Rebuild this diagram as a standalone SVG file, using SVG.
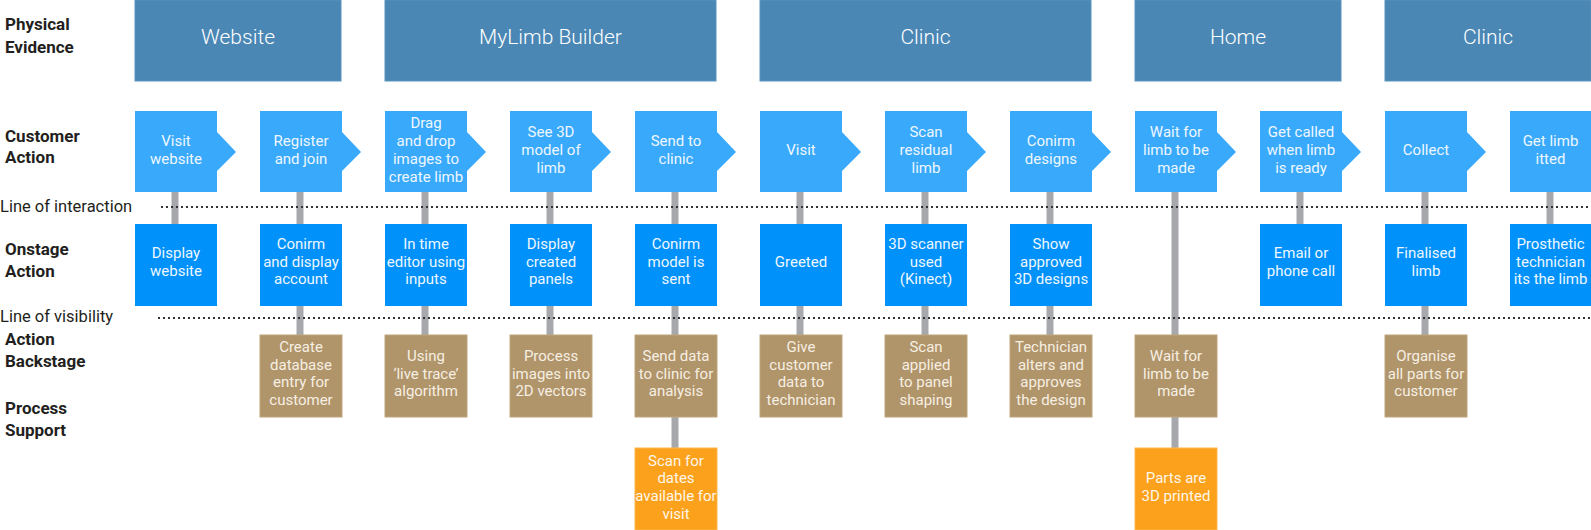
<svg xmlns="http://www.w3.org/2000/svg" width="1591" height="530" viewBox="0 0 1591 530">
<style>
text{font-family:Roboto,"Liberation Sans",sans-serif;}
.lbl{font-size:17px;font-weight:bold;fill:#231f20;}
.line-lbl{font-size:16.5px;fill:#231f20;}
.hdr rect{fill:#4a87b5;stroke:#5b93be;stroke-width:1;}
.hdr text{font-size:21px;font-weight:300;fill:#ffffff;text-anchor:middle;}
.ca path{fill:#39a9fb;}
.on rect{fill:#0091fa;}
.bs rect{fill:#b0946a;stroke:#c0a57c;stroke-width:1;}
.sp rect{fill:#fba11b;stroke:#fdb74f;stroke-width:1;}
.nt{font-size:15px;text-anchor:middle;}
.ca text,.on text{fill:#eef7ff;}
.bs text{fill:#f6efe2;}
.sp text{fill:#fff6e8;}
.conn line{stroke:#a6a8ab;stroke-width:7;}
.dots line{stroke:#333333;stroke-width:2;stroke-dasharray:2 3;}
</style>

<!-- Left labels -->
<g id="labels">
<text class="lbl" x="5" y="30">Physical</text>
<text class="lbl" x="5" y="52.5">Evidence</text>
<text class="lbl" x="5" y="141.5">Customer</text>
<text class="lbl" x="5" y="163">Action</text>
<text class="line-lbl" x="0" y="211.5">Line of interaction</text>
<text class="lbl" x="5" y="255">Onstage</text>
<text class="lbl" x="5" y="276.5">Action</text>
<text class="line-lbl" x="0" y="322">Line of visibility</text>
<text class="lbl" x="5" y="345">Action</text>
<text class="lbl" x="5" y="366.5">Backstage</text>
<text class="lbl" x="5" y="414">Process</text>
<text class="lbl" x="5" y="435.5">Support</text>
</g>

<!-- Physical evidence headers -->
<g id="pe-website" class="hdr"><rect x="135" y="0" width="206" height="81"/><text x="238" y="43.5">Website</text></g>
<g id="pe-mylimb" class="hdr"><rect x="385" y="0" width="331" height="81"/><text x="550.5" y="43.5">MyLimb Builder</text></g>
<g id="pe-clinic1" class="hdr"><rect x="760" y="0" width="331" height="81"/><text x="925.5" y="43.5">Clinic</text></g>
<g id="pe-home" class="hdr"><rect x="1135" y="0" width="206" height="81"/><text x="1238" y="43.5">Home</text></g>
<g id="pe-clinic2" class="hdr"><rect x="1385" y="0" width="206" height="81"/><text x="1488" y="43.5">Clinic</text></g>

<!-- Connectors -->
<g id="connectors" class="conn">
<line x1="175" y1="192" x2="175" y2="224"/>
<line x1="300" y1="192" x2="300" y2="224"/><line x1="300" y1="306" x2="300" y2="335"/>
<line x1="425" y1="192" x2="425" y2="224"/><line x1="425" y1="306" x2="425" y2="335"/>
<line x1="550" y1="192" x2="550" y2="224"/><line x1="550" y1="306" x2="550" y2="335"/>
<line x1="675" y1="192" x2="675" y2="224"/><line x1="675" y1="306" x2="675" y2="335"/><line x1="675" y1="417" x2="675" y2="448"/>
<line x1="800" y1="192" x2="800" y2="224"/><line x1="800" y1="306" x2="800" y2="335"/>
<line x1="925" y1="192" x2="925" y2="224"/><line x1="925" y1="306" x2="925" y2="335"/>
<line x1="1050" y1="192" x2="1050" y2="224"/><line x1="1050" y1="306" x2="1050" y2="335"/>
<line x1="1175" y1="192" x2="1175" y2="335"/><line x1="1175" y1="417" x2="1175" y2="448"/>
<line x1="1300" y1="192" x2="1300" y2="224"/>
<line x1="1425" y1="192" x2="1425" y2="224"/><line x1="1425" y1="306" x2="1425" y2="335"/>
<line x1="1550" y1="192" x2="1550" y2="224"/>
</g>

<!-- Dotted lines -->
<g id="lines" class="dots">
<line x1="161" y1="207" x2="1591" y2="207"/>
<line x1="158" y1="318" x2="1591" y2="318"/>
</g>

<!-- Customer actions -->
<g id="ca1" class="ca"><path d="M135 111H217V132L236 152L217 171V192H135Z"/><text class="nt"><tspan x="176" y="146">Visit</tspan><tspan x="176" y="163.7">website</tspan></text></g>
<g id="ca2" class="ca"><path d="M260 111H342V132L361 152L342 171V192H260Z"/><text class="nt"><tspan x="301" y="146">Register</tspan><tspan x="301" y="163.7">and join</tspan></text></g>
<g id="ca3" class="ca"><path d="M385 111H467V132L486 152L467 171V192H385Z"/><text class="nt"><tspan x="426" y="128.4">Drag</tspan><tspan x="426" y="146.1">and drop</tspan><tspan x="426" y="163.8">images to</tspan><tspan x="426" y="181.5">create limb</tspan></text></g>
<g id="ca4" class="ca"><path d="M510 111H592V132L611 152L592 171V192H510Z"/><text class="nt"><tspan x="551" y="137.3">See 3D</tspan><tspan x="551" y="155">model of</tspan><tspan x="551" y="172.7">limb</tspan></text></g>
<g id="ca5" class="ca"><path d="M635 111H717V132L736 152L717 171V192H635Z"/><text class="nt"><tspan x="676" y="146">Send to</tspan><tspan x="676" y="163.7">clinic</tspan></text></g>
<g id="ca6" class="ca"><path d="M760 111H842V132L861 152L842 171V192H760Z"/><text class="nt"><tspan x="801" y="155">Visit</tspan></text></g>
<g id="ca7" class="ca"><path d="M885 111H967V132L986 152L967 171V192H885Z"/><text class="nt"><tspan x="926" y="137.3">Scan</tspan><tspan x="926" y="155">residual</tspan><tspan x="926" y="172.7">limb</tspan></text></g>
<g id="ca8" class="ca"><path d="M1010 111H1092V132L1111 152L1092 171V192H1010Z"/><text class="nt"><tspan x="1051" y="146">Conirm</tspan><tspan x="1051" y="163.7">designs</tspan></text></g>
<g id="ca9" class="ca"><path d="M1135 111H1217V132L1236 152L1217 171V192H1135Z"/><text class="nt"><tspan x="1176" y="137.3">Wait for</tspan><tspan x="1176" y="155">limb to be</tspan><tspan x="1176" y="172.7">made</tspan></text></g>
<g id="ca10" class="ca"><path d="M1260 111H1342V132L1361 152L1342 171V192H1260Z"/><text class="nt"><tspan x="1301" y="137.3">Get called</tspan><tspan x="1301" y="155">when limb</tspan><tspan x="1301" y="172.7">is ready</tspan></text></g>
<g id="ca11" class="ca"><path d="M1385 111H1467V132L1486 152L1467 171V192H1385Z"/><text class="nt"><tspan x="1426" y="155">Collect</tspan></text></g>
<g id="ca12" class="ca"><path d="M1510 111H1591V192H1510Z"/><text class="nt"><tspan x="1550.5" y="146">Get limb</tspan><tspan x="1550.5" y="163.7">itted</tspan></text></g>

<!-- Onstage actions -->
<g id="on1" class="on"><rect x="135" y="224" width="82" height="82"/><text class="nt"><tspan x="176" y="258">Display</tspan><tspan x="176" y="275.7">website</tspan></text></g>
<g id="on2" class="on"><rect x="260" y="224" width="82" height="82"/><text class="nt"><tspan x="301" y="249">Conirm</tspan><tspan x="301" y="266.7">and display</tspan><tspan x="301" y="284.4">account</tspan></text></g>
<g id="on3" class="on"><rect x="385" y="224" width="82" height="82"/><text class="nt"><tspan x="426" y="249">In time</tspan><tspan x="426" y="266.7">editor using</tspan><tspan x="426" y="284.4">inputs</tspan></text></g>
<g id="on4" class="on"><rect x="510" y="224" width="82" height="82"/><text class="nt"><tspan x="551" y="249">Display</tspan><tspan x="551" y="266.7">created</tspan><tspan x="551" y="284.4">panels</tspan></text></g>
<g id="on5" class="on"><rect x="635" y="224" width="82" height="82"/><text class="nt"><tspan x="676" y="249">Conirm</tspan><tspan x="676" y="266.7">model is</tspan><tspan x="676" y="284.4">sent</tspan></text></g>
<g id="on6" class="on"><rect x="760" y="224" width="82" height="82"/><text class="nt"><tspan x="801" y="266.7">Greeted</tspan></text></g>
<g id="on7" class="on"><rect x="885" y="224" width="82" height="82"/><text class="nt"><tspan x="926" y="249">3D scanner</tspan><tspan x="926" y="266.7">used</tspan><tspan x="926" y="284.4">(Kinect)</tspan></text></g>
<g id="on8" class="on"><rect x="1010" y="224" width="82" height="82"/><text class="nt"><tspan x="1051" y="249">Show</tspan><tspan x="1051" y="266.7">approved</tspan><tspan x="1051" y="284.4">3D designs</tspan></text></g>
<g id="on10" class="on"><rect x="1260" y="224" width="82" height="82"/><text class="nt"><tspan x="1301" y="258">Email or</tspan><tspan x="1301" y="275.7">phone call</tspan></text></g>
<g id="on11" class="on"><rect x="1385" y="224" width="82" height="82"/><text class="nt"><tspan x="1426" y="258">Finalised</tspan><tspan x="1426" y="275.7">limb</tspan></text></g>
<g id="on12" class="on"><rect x="1510" y="224" width="81" height="82"/><text class="nt"><tspan x="1550.5" y="249">Prosthetic</tspan><tspan x="1550.5" y="266.7">technician</tspan><tspan x="1550.5" y="284.4">its the limb</tspan></text></g>

<!-- Backstage actions -->
<g id="bs2" class="bs"><rect x="260" y="335" width="82" height="82"/><text class="nt"><tspan x="301" y="352">Create</tspan><tspan x="301" y="369.7">database</tspan><tspan x="301" y="387.4">entry for</tspan><tspan x="301" y="405.1">customer</tspan></text></g>
<g id="bs3" class="bs"><rect x="385" y="335" width="82" height="82"/><text class="nt"><tspan x="426" y="360.8">Using</tspan><tspan x="426" y="378.5">‘live trace’</tspan><tspan x="426" y="396.2">algorithm</tspan></text></g>
<g id="bs4" class="bs"><rect x="510" y="335" width="82" height="82"/><text class="nt"><tspan x="551" y="360.8">Process</tspan><tspan x="551" y="378.5">images into</tspan><tspan x="551" y="396.2">2D vectors</tspan></text></g>
<g id="bs5" class="bs"><rect x="635" y="335" width="82" height="82"/><text class="nt"><tspan x="676" y="360.8">Send data</tspan><tspan x="676" y="378.5">to clinic for</tspan><tspan x="676" y="396.2">analysis</tspan></text></g>
<g id="bs6" class="bs"><rect x="760" y="335" width="82" height="82"/><text class="nt"><tspan x="801" y="352">Give</tspan><tspan x="801" y="369.7">customer</tspan><tspan x="801" y="387.4">data to</tspan><tspan x="801" y="405.1">technician</tspan></text></g>
<g id="bs7" class="bs"><rect x="885" y="335" width="82" height="82"/><text class="nt"><tspan x="926" y="352">Scan</tspan><tspan x="926" y="369.7">applied</tspan><tspan x="926" y="387.4">to panel</tspan><tspan x="926" y="405.1">shaping</tspan></text></g>
<g id="bs8" class="bs"><rect x="1010" y="335" width="82" height="82"/><text class="nt"><tspan x="1051" y="352">Technician</tspan><tspan x="1051" y="369.7">alters and</tspan><tspan x="1051" y="387.4">approves</tspan><tspan x="1051" y="405.1">the design</tspan></text></g>
<g id="bs9" class="bs"><rect x="1135" y="335" width="82" height="82"/><text class="nt"><tspan x="1176" y="360.8">Wait for</tspan><tspan x="1176" y="378.5">limb to be</tspan><tspan x="1176" y="396.2">made</tspan></text></g>
<g id="bs11" class="bs"><rect x="1385" y="335" width="82" height="82"/><text class="nt"><tspan x="1426" y="360.8">Organise</tspan><tspan x="1426" y="378.5">all parts for</tspan><tspan x="1426" y="396.2">customer</tspan></text></g>

<!-- Process support -->
<g id="sp5" class="sp"><rect x="635" y="448" width="82" height="82"/><text class="nt"><tspan x="676" y="465.5">Scan for</tspan><tspan x="676" y="483.2">dates</tspan><tspan x="676" y="500.9">available for</tspan><tspan x="676" y="518.6">visit</tspan></text></g>
<g id="sp9" class="sp"><rect x="1135" y="448" width="82" height="82"/><text class="nt"><tspan x="1176" y="483.3">Parts are</tspan><tspan x="1176" y="501">3D printed</tspan></text></g>
</svg>
